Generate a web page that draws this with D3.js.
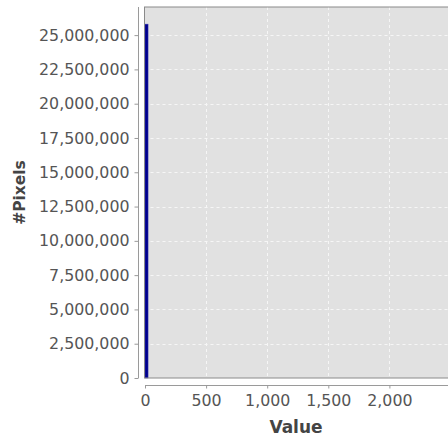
<!DOCTYPE html>
<html>
<head>
<meta charset="utf-8">
<script src="https://cdn.jsdelivr.net/npm/d3@7/dist/d3.min.js"></script>
<style>
  html, body { margin: 0; padding: 0; background: #fff; overflow: hidden; }
  svg { display: block; }
</style>
</head>
<body>
<script>
// Histogram of pixel values: bin start values and pixel counts
const binStarts = [0, 25, 50, 75, 100];
const binWidth = 25;
const counts = [25800000, 0, 0, 0, 0];
const xTicks = [0, 500, 1000, 1500, 2000];
const yTicks = [0, 2500000, 5000000, 7500000, 10000000, 12500000, 15000000,
                17500000, 20000000, 22500000, 25000000];
const xTitle = "Value";
const yTitle = "#Pixels";

const W = 448, H = 438;
const plot = { left: 144.5, top: 7, right: 458, bottom: 378 };

const svg = d3.select("body").append("svg").attr("width", W).attr("height", H);

const x = d3.scaleLinear().domain([0, 2550]).range([145, 145 + 2550 * 0.1222]);
const y = d3.scaleLinear().domain([0, 27050000]).range([plot.bottom, plot.top]);

const fmt = d3.format(",");

// plot background
svg.append("rect")
  .attr("x", plot.left).attr("y", plot.top)
  .attr("width", plot.right - plot.left).attr("height", plot.bottom - plot.top)
  .attr("fill", "#e1e1e1");

// grid
const grid = svg.append("g").attr("stroke", "#f6f6f6").attr("stroke-width", 1)
  .attr("stroke-dasharray", "3,3");
grid.selectAll("line.h").data(yTicks.filter(d => d > 0)).join("line")
  .attr("x1", plot.left).attr("x2", plot.right)
  .attr("y1", d => Math.round(y(d)) + 0.5).attr("y2", d => Math.round(y(d)) + 0.5);
grid.selectAll("line.v").data(xTicks.filter(d => d > 0)).join("line")
  .attr("y1", plot.top).attr("y2", plot.bottom)
  .attr("x1", d => Math.round(x(d)) + 0.5).attr("x2", d => Math.round(x(d)) + 0.5);

// bars
svg.append("g").selectAll("rect").data(binStarts.map((b, i) => ({ b, c: counts[i] })))
  .join("rect")
  .attr("x", d => x(d.b))
  .attr("width", d => x(d.b + binWidth) - x(d.b))
  .attr("y", d => y(d.c))
  .attr("height", d => y(0) - y(d.c))
  .attr("fill", "#00008c")
  .attr("stroke", "#3a3ab0").attr("stroke-width", 0.5);

// plot outline
svg.append("rect")
  .attr("x", plot.left).attr("y", plot.top)
  .attr("width", plot.right - plot.left).attr("height", plot.bottom - plot.top)
  .attr("fill", "none").attr("stroke", "#8a8a8a").attr("stroke-width", 1);

// y axis
const yAxis = svg.append("g").attr("transform", "translate(138.5,0)")
  .call(d3.axisLeft(y).tickValues(yTicks).tickFormat(fmt).tickSize(4).tickPadding(5));
yAxis.select(".domain").attr("stroke", "#9a9a9a").attr("d", `M0,${plot.top}V${plot.bottom}`);
yAxis.selectAll(".tick line").attr("stroke", "#9a9a9a");
yAxis.selectAll("text").attr("fill", "#555").style("font-family", "DejaVu Sans")
  .style("font-size", "15.8px");

// x axis
const xAxis = svg.append("g").attr("transform", "translate(0,385.5)")
  .call(d3.axisBottom(x).tickValues(xTicks).tickFormat(fmt).tickSize(3).tickPadding(6));
xAxis.select(".domain").attr("stroke", "#9a9a9a").attr("d", `M${x(0)},0H${plot.right}`);
xAxis.selectAll(".tick line").attr("stroke", "#9a9a9a");
xAxis.selectAll("text").attr("fill", "#555").style("font-family", "DejaVu Sans")
  .style("font-size", "15.8px");

// axis titles
svg.append("text").attr("x", 296).attr("y", 433).attr("text-anchor", "middle")
  .attr("fill", "#444").style("font-family", "DejaVu Sans").style("font-weight", "bold")
  .style("font-size", "17px").text(xTitle);
svg.append("text").attr("transform", "translate(24.5,192.5) rotate(-90)").attr("text-anchor", "middle")
  .attr("fill", "#444").style("font-family", "DejaVu Sans").style("font-weight", "bold")
  .style("font-size", "15.5px").text(yTitle);
</script>
</body>
</html>
